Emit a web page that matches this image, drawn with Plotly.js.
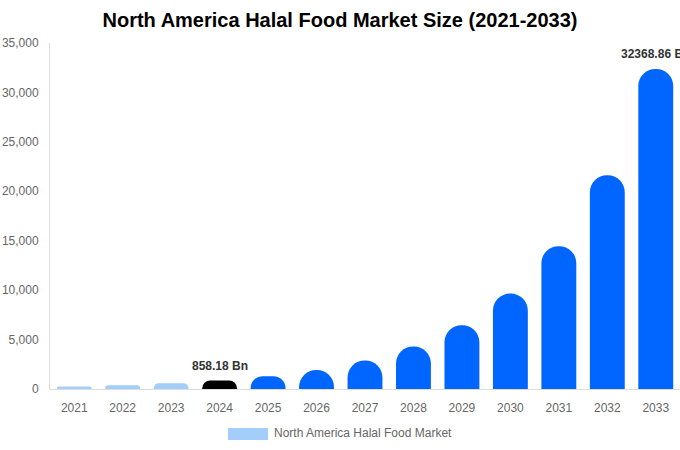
<!DOCTYPE html>
<html>
<head>
<meta charset="utf-8">
<script src="https://cdn.plot.ly/plotly-3.0.1.min.js"></script>
<style>
  html, body { margin: 0; padding: 0; background: #fff; }
  #chart { width: 680px; height: 450px; }
</style>
</head>
<body>
<div id="chart"></div>
<script>
// market size per year (Bn)
var years = ['2021', '2022', '2023', '2024', '2025', '2026', '2027', '2028', '2029', '2030', '2031', '2032', '2033'];
var market_size = [255, 380, 570, 858.18, 1280, 1920, 2880, 4300, 6450, 9650, 14450, 21620, 32368.86];
var labelled_years = ['2024', '2033'];
var series_name = 'North America Halal Food Market';

var past_colour = '#a3cdfa';
var current_colour = '#000000';
var forecast_colour = '#0066ff';

var bar_colours = [];
for (var i = 0; i < years.length; i++) {
	var y = parseInt(years[i]);
	if (y < 2024) {
		bar_colours.push(past_colour);
	} else if (y == 2024) {
		bar_colours.push(current_colour);
	} else {
		bar_colours.push(forecast_colour);
	}
}

var bars = {
	x: years,
	y: market_size,
	type: 'bar',
	name: series_name,
	marker: {
		color: bar_colours,
		cornerradius: '50%'
	},
	hoverinfo: 'x+y',
	showlegend: false
};

// value labels above the highlighted bars (x is the category index)
var annotations = [];
for (var i = 0; i < years.length; i++) {
	if (labelled_years.indexOf(years[i]) >= 0) {
		annotations.push({
			x: i,
			y: market_size[i],
			xref: 'x', yref: 'y',
			text: '<b>' + market_size[i] + ' Bn</b>',
			showarrow: false,
			yanchor: 'bottom',
			yshift: 6,
			font: { size: 12, color: '#333333' }
		});
	}
}

// hand-made legend label next to the swatch
annotations.push({
	xref: 'paper', yref: 'paper',
	x: (272 - 50) / 630,
	y: -(433 - 389) / 346,
	xanchor: 'left',
	yanchor: 'middle',
	showarrow: false,
	text: series_name,
	font: { size: 12, color: '#666666' }
});

var layout = {
	width: 680,
	height: 450,
	margin: { l: 50, r: 0, t: 43, b: 61 },
	paper_bgcolor: '#ffffff',
	plot_bgcolor: '#ffffff',
	font: { family: 'Liberation Sans, Arial, sans-serif', size: 12, color: '#666666' },
	title: {
		text: '<b>North America Halal Food Market Size (2021-2033)</b>',
		font: { family: 'Liberation Sans, Arial, sans-serif', size: 20, color: '#000000' },
		x: 0.5,
		xanchor: 'center',
		y: 0.955,
		yanchor: 'middle'
	},
	bargap: 0.28,
	xaxis: {
		type: 'category',
		range: [-0.5, years.length - 0.5],
		showline: true,
		linecolor: '#dddddd',
		linewidth: 1,
		showgrid: false,
		ticks: 'outside',
		ticklen: 8,
		tickcolor: 'rgba(0,0,0,0)',
		tickfont: { size: 12, color: '#666666' },
		fixedrange: true
	},
	yaxis: {
		range: [0, 35000],
		dtick: 5000,
		tickformat: ',',
		showline: true,
		linecolor: '#dddddd',
		linewidth: 1,
		showgrid: false,
		zeroline: false,
		ticks: 'outside',
		ticklen: 8,
		tickcolor: 'rgba(0,0,0,0)',
		tickfont: { size: 12, color: '#666666' },
		fixedrange: true
	},
	showlegend: false,
	shapes: [{
		type: 'rect',
		xref: 'paper', yref: 'paper',
		x0: (228 - 50) / 630, x1: (268 - 50) / 630,
		y0: -(440 - 389) / 346, y1: -(428 - 389) / 346,
		fillcolor: past_colour,
		line: { width: 0 }
	}],
	annotations: annotations
};

Plotly.newPlot('chart', [bars], layout, { displayModeBar: false, staticPlot: true });
</script>
</body>
</html>
